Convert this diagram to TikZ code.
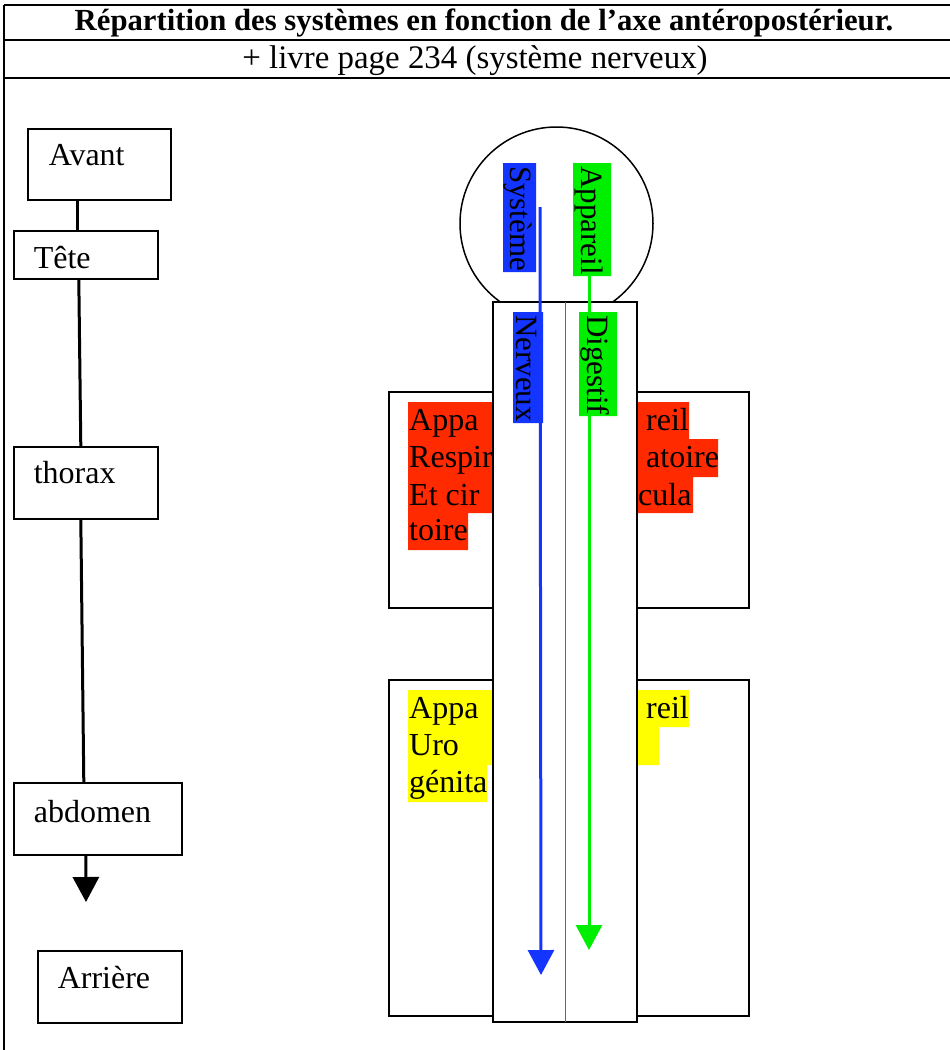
\documentclass[tikz,border=0pt]{standalone}
\usepackage{fontspec}
\setmainfont{Liberation Serif}
\usetikzlibrary{arrows.meta,calc}
\definecolor{hlred}{RGB}{255,42,0}
\definecolor{hlyellow}{RGB}{255,255,0}
\definecolor{hlblue}{RGB}{20,52,255}
\definecolor{hlgreen}{RGB}{0,238,0}
\newcommand\mybody{\fontsize{32}{37}\selectfont}
\newcommand\myvert{\fontsize{31}{37}\selectfont}
\begin{document}
\begin{tikzpicture}[x=1pt,y=-1pt,
  rule/.style={line width=1.8pt,black},
  lbox/.style={draw,line width=1.6pt,inner ysep=0pt,align=left,anchor=north west,font=\mybody},
  conn/.style={line width=3pt,black},
  bigarrow/.style={-{Triangle[width=26pt,length=25pt]}},
  part/.style={draw,line width=1.8pt,fill=white},
  txt/.style={anchor=base west,inner sep=0pt,font=\mybody},
  vtxt/.style={anchor=base west,inner sep=0pt,font=\myvert,rotate=-90},
  axis/.style={line width=3pt}]
\useasboundingbox (0,0) rectangle (950,1050);
% table
\draw[rule] (4,5) -- (950,5);
\draw[rule] (4,40) -- (950,40);
\draw[rule] (4,78) -- (950,78);
\draw[rule] (4,5) -- (4,1050);
\node[anchor=base,inner sep=0pt] (title) at (484,30) {\fontsize{30.7}{34}\selectfont\bfseries Répartition des systèmes en fonction de l’axe antéropostérieur.};
\node[anchor=base,inner sep=0pt] (sub) at (475,68) {\fontsize{32.9}{36}\selectfont + livre page 234 (système nerveux)};
% left column
\node[lbox,inner xsep=21pt,text width=101pt,text height=37pt,text depth=34pt] (avant) at (27,128) {Avant};
\node[lbox,inner xsep=20pt,text width=104pt,text height=38pt,text depth=10pt] (tete) at (13,230) {Tête};
\node[lbox,inner xsep=20pt,text width=104pt,text height=37pt,text depth=35pt] (thorax) at (13,446) {thorax};
\node[lbox,inner xsep=20pt,text width=128pt,text height=40pt,text depth=32pt] (abdomen) at (13,782) {abdomen};
\node[lbox,inner xsep=20pt,text width=104pt,text height=38pt,text depth=34pt] (arriere) at (37,950) {Arrière};
\coordinate (abtip) at (86,902);
\draw[conn] ([xshift=-21.5pt]avant.south) -- ([xshift=-8pt]tete.north);
\draw[conn] ([xshift=-7pt]tete.south) -- ([xshift=-5pt]thorax.north);
\draw[conn] ([xshift=-5pt]thorax.south) -- ([xshift=-14pt]abdomen.north);
\draw[conn,bigarrow] ([xshift=-12pt]abdomen.south) -- (abtip);
% body parts
\draw[part] (389,392) rectangle (749,608);
\draw[part] (389,680) rectangle (749,1016);
% red highlights
\fill[hlred] (408,402) rectangle (493,513) (408,513) rectangle (468,550)
  (637,402) rectangle (689,439) (637,439) rectangle (718,477) (637,477) rectangle (693,513);
\node[txt] (r1) at (409,430) {Appa};
\node[txt] (r2) at (409,467) {Respir};
\node[txt] (r3) at (409,505) {Et cir};
\node[txt] (r4) at (409,540) {toire};
\node[txt] (r5) at (646,430) {reil};
\node[txt] (r6) at (646,467) {atoire};
\node[txt] (r7) at (638,505) {cula};
% yellow highlights
\fill[hlyellow] (408,690) rectangle (493,765) (408,765) rectangle (487,802)
  (637,690) rectangle (689,727) (637,727) rectangle (659,765);
\node[txt] (y1) at (409,718) {Appa};
\node[txt] (y2) at (409,755) {Uro};
\node[txt] (y3) at (409,792) {génita};
\node[txt] (y4) at (646,718) {reil};
% head and trunk
\draw[line width=1.5pt] (556.5,223.5) circle[radius=96.5pt];
\draw[part] (493,302) rectangle (637,1022);
\draw[line width=1pt,black!60] (565,302) -- (565,1022);
% axes
\coordinate (nstart) at (540,207);
\coordinate (ntip) at (541,975);
\coordinate (dstart) at (589,272);
\coordinate (dtip) at (589,950);
\draw[axis,hlblue,bigarrow] (nstart) -- (ntip);
\draw[axis,hlgreen,bigarrow] (dstart) -- (dtip);
\fill[hlblue] (503,163) rectangle (536,272) (513,312) rectangle (543,423);
\fill[hlgreen] (573,163) rectangle (611,276) (579,312) rectangle (617,416);
\node[vtxt] (s1) at (510,166) {Système};
\node[vtxt] (s2) at (516,315) {Nerveux};
\node[vtxt] (a1) at (581,166) {Appareil};
\node[vtxt] (a2) at (587,315) {Digestif};
\end{tikzpicture}
\end{document}
